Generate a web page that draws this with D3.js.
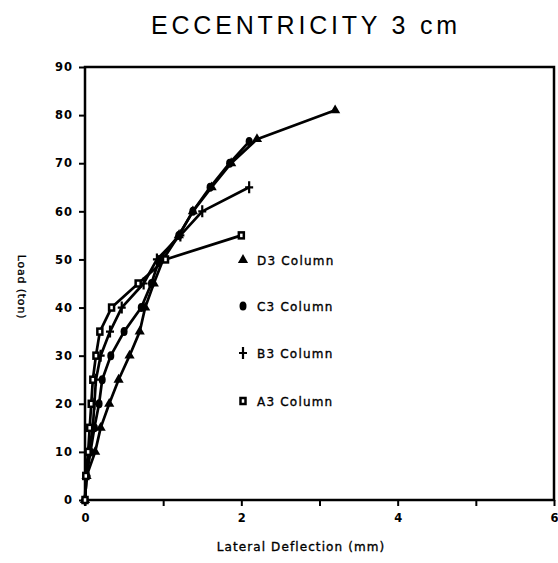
<!DOCTYPE html>
<html><head><meta charset="utf-8">
<script src="https://cdn.jsdelivr.net/npm/d3@7"></script>
<style>body{margin:0;background:#fff}svg{display:block}</style>
</head><body>
<svg id="c" width="558" height="563"></svg>
<script>
const title = "ECCENTRICITY 3 cm";
const xLabel = "Lateral Deflection (mm)";
const yLabel = "Load (ton)";
const xTicks = [0, 2, 4, 6];
const xMinorTicks = [1, 3, 5];
const yTicks = [0, 10, 20, 30, 40, 50, 60, 70, 80, 90];
const seriesNames = ["D3 Column", "C3 Column", "B3 Column", "A3 Column"];
const d3Col = [[0,0],[0.02,5],[0.13,10],[0.2,15],[0.31,20],[0.43,25],[0.57,30],[0.7,35],[0.77,40],[0.88,45],[1.0,50],[1.2,55],[1.38,60],[1.62,65],[1.87,70],[2.2,75],[3.2,81]];
const c3Col = [[0,0],[0.02,5],[0.07,10],[0.12,15],[0.18,20],[0.22,25],[0.33,30],[0.5,35],[0.72,40],[0.85,45],[0.95,50],[1.2,55],[1.38,60],[1.6,65],[1.85,70],[2.1,74.5]];
const b3Col = [[0,0],[0.02,5],[0.05,10],[0.1,15],[0.12,20],[0.14,25],[0.2,30],[0.32,35],[0.47,40],[0.75,45],[0.92,50],[1.22,55],[1.5,60],[2.1,65]];
const a3Col = [[0,0],[0.01,5],[0.04,10],[0.06,15],[0.08,20],[0.1,25],[0.14,30],[0.19,35],[0.34,40],[0.68,45],[1.03,50],[2.0,55]];
const seriesData = [d3Col, c3Col, b3Col, a3Col];

const svg = d3.select("#c");
const L = 85, R = 554, T = 67, B = 500;
const x = d3.scaleLinear().domain([0, 6]).range([L, R]);
const y = d3.scaleLinear().domain([0, 90]).range([B, T]);
const tfont = "'Liberation Sans', Arial, sans-serif";
const font = "'DejaVu Sans', Verdana, sans-serif";

svg.append("text").attr("x", 306).attr("y", 34).attr("text-anchor", "middle")
  .attr("font-family", tfont).attr("font-size", 25).attr("letter-spacing", 3.8)
  .attr("fill", "#000").text(title);

// frame
svg.append("rect").attr("x", L).attr("y", T).attr("width", R - L).attr("height", B - T)
  .attr("fill", "none").attr("stroke", "#000").attr("stroke-width", 2.5);

// y axis
const ya = svg.append("g").attr("transform", `translate(${L},0)`)
  .call(d3.axisLeft(y).tickValues(yTicks).tickSize(6).tickPadding(6));
ya.select(".domain").remove();
ya.selectAll("line").attr("stroke-width", 2);
ya.selectAll("text").attr("font-family", font).attr("font-size", 11.5).attr("font-weight", "bold")
  .attr("letter-spacing", 1);

// x axis
const xa = svg.append("g").attr("transform", `translate(0,${B})`)
  .call(d3.axisBottom(x).tickValues(xTicks).tickSize(6).tickPadding(8).tickFormat(d3.format("d")));
xa.select(".domain").remove();
xa.selectAll("line").attr("stroke-width", 2);
xa.selectAll("text").attr("font-family", font).attr("font-size", 11.5).attr("font-weight", "bold");
svg.append("g").attr("transform", `translate(0,${B})`)
  .call(d3.axisBottom(x).tickValues(xMinorTicks).tickSize(6).tickFormat(""))
  .call(g => g.select(".domain").remove())
  .selectAll("line").attr("stroke-width", 2);

svg.append("text").attr("x", 301).attr("y", 551).attr("text-anchor", "middle")
  .attr("font-family", font).attr("font-size", 12).attr("letter-spacing", 1.1)
  .attr("stroke", "#000").attr("stroke-width", 0.35).text(xLabel);
svg.append("text").attr("transform", "translate(18,287) rotate(90)").attr("text-anchor", "middle")
  .attr("font-family", font).attr("font-size", 11).attr("letter-spacing", 0.8)
  .attr("stroke", "#000").attr("stroke-width", 0.3).text(yLabel);

const line = d3.line().x(d => x(d[0])).y(d => y(d[1]));
seriesData.forEach(s => {
  svg.append("path").attr("d", line(s)).attr("fill", "none").attr("stroke", "#000")
    .attr("stroke-width", 2.7).attr("stroke-linejoin", "round");
});

function marker(g, i, cx, cy) {
  if (i === 0) {
    g.append("path").attr("d", d3.symbol(d3.symbolTriangle, 45)()).attr("transform", `translate(${cx},${cy})`).attr("fill", "#000");
  } else if (i === 1) {
    g.append("ellipse").attr("cx", cx).attr("cy", cy).attr("rx", 3.5).attr("ry", 4.5).attr("fill", "#000");
  } else if (i === 2) {
    g.append("path").attr("d", `M${cx},${cy-6}V${cy+6}M${cx-4},${cy}H${cx+4}`).attr("stroke", "#000").attr("stroke-width", 2.2);
  } else {
    g.append("rect").attr("x", cx - 2.5).attr("y", cy - 3).attr("width", 5).attr("height", 6)
      .attr("fill", "#fff").attr("stroke", "#000").attr("stroke-width", 2.5);
  }
}
const mg = svg.append("g");
seriesData.forEach((s, i) => s.forEach(d => marker(mg, i, x(d[0]), y(d[1]))));

// legend
const legY = [260, 306, 353, 401];
seriesNames.forEach((n, i) => {
  marker(svg, i, 243, legY[i]);
  svg.append("text").attr("x", 257).attr("y", legY[i] + 4.5).attr("font-family", font)
    .attr("font-size", 12).attr("letter-spacing", 1.2)
    .attr("stroke", "#000").attr("stroke-width", 0.35).text(n);
});
</script>
</body></html>
